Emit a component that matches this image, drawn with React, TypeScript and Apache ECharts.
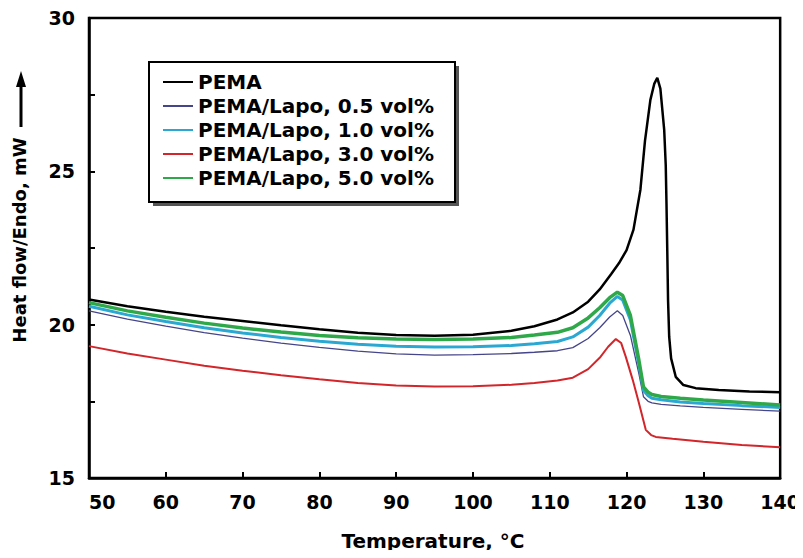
import React, { useEffect, useRef } from "react";
import * as echarts from "echarts";

const SERIES_NAMES = [
  "PEMA",
  "PEMA/Lapo, 0.5 vol%",
  "PEMA/Lapo, 1.0 vol%",
  "PEMA/Lapo, 3.0 vol%",
  "PEMA/Lapo, 5.0 vol%",
];

const T_PEMA = [50, 55, 60, 65, 70, 75, 80, 85, 90, 95, 100, 105, 108, 111, 113, 115, 116.5, 118, 119, 120, 120.9, 121.8, 122.4, 123.1, 123.6, 124, 124.4, 124.9, 125.1, 125.2, 125.3, 125.4, 125.55, 125.8, 126.4, 127.4, 129, 132, 136, 140];
const V_PEMA = [20.82, 20.6, 20.42, 20.26, 20.12, 19.98, 19.85, 19.74, 19.66, 19.64, 19.67, 19.8, 19.95, 20.17, 20.4, 20.75, 21.15, 21.65, 22.0, 22.43, 23.1, 24.4, 26.0, 27.33, 27.85, 28.05, 27.7, 26.35, 25.2, 23.9, 22.4, 20.8, 19.6, 18.9, 18.3, 18.03, 17.93, 17.87, 17.82, 17.8];

const T_FILLED = [50, 55, 60, 65, 70, 75, 80, 85, 90, 95, 100, 105, 108, 111, 113, 115, 116.5, 117.8, 118.8, 119.5, 120.5, 121.6, 122.2, 122.8, 123.3, 124.5, 127, 130, 135, 140];
const V_05 = [20.45, 20.18, 19.95, 19.74, 19.56, 19.4, 19.26, 19.14, 19.05, 19.01, 19.02, 19.06, 19.1, 19.15, 19.25, 19.55, 19.9, 20.25, 20.45, 20.3, 19.65, 18.4, 17.65, 17.5, 17.45, 17.4, 17.35, 17.3, 17.24, 17.18];
const V_10 = [20.6, 20.32, 20.1, 19.9, 19.73, 19.58, 19.46, 19.36, 19.3, 19.27, 19.28, 19.32, 19.38, 19.45, 19.6, 19.92, 20.3, 20.7, 20.92, 20.8, 20.15, 18.7, 17.85, 17.68, 17.6, 17.55, 17.48, 17.43, 17.36, 17.3];
const V_50 = [20.72, 20.45, 20.24, 20.05, 19.89, 19.76, 19.65, 19.57, 19.53, 19.52, 19.53, 19.58, 19.66, 19.75, 19.9, 20.22, 20.55, 20.88, 21.06, 20.95, 20.3, 18.85, 17.97, 17.8, 17.72, 17.66, 17.6, 17.54, 17.46, 17.38];

const T_30 = [50, 55, 60, 65, 70, 75, 80, 85, 90, 95, 100, 105, 108, 111, 113, 115, 116.5, 117.6, 118.6, 119.3, 119.9, 120.8, 121.6, 122.5, 123.2, 123.8, 126, 130, 135, 140];
const V_30 = [19.3, 19.06, 18.86, 18.66, 18.5, 18.35, 18.22, 18.1, 18.02, 17.98, 17.99, 18.04, 18.1, 18.18, 18.27, 18.55, 18.92, 19.28, 19.53, 19.4, 18.95, 18.2, 17.45, 16.57, 16.4, 16.34, 16.28, 16.18, 16.08, 16.0];

const COLORS = ["#000000", "#45458a", "#2aa8d2", "#d2262a", "#2fa84a"];
const WIDTHS = [2.5, 1.3, 3, 2, 3.5];

const X_MIN = 50;
const X_MAX = 140;
const X_STEP = 10;
const Y_MIN = 15;
const Y_MAX = 30;
const Y_STEP = 2.5;

const zip = (t: number[], v: number[]) => t.map((x, i) => [x, v[i]]);

const FONT = "DejaVu Sans";

export default function App() {
  const ref = useRef<HTMLDivElement>(null);
  useEffect(() => {
    if (!ref.current) return;
    const chart = echarts.init(ref.current, undefined, { renderer: "svg" });
    const datasets = [
      zip(T_PEMA, V_PEMA),
      zip(T_FILLED, V_05),
      zip(T_FILLED, V_10),
      zip(T_30, V_30),
      zip(T_FILLED, V_50),
    ];
    chart.setOption({
      animation: false,
      backgroundColor: "#ffffff",
      textStyle: { fontFamily: FONT, fontWeight: "bold", color: "#000" },
      grid: {
        left: 89,
        right: 21,
        top: 18,
        bottom: 80,
        show: true,
        borderColor: "#000",
        borderWidth: 2.5,
        backgroundColor: "transparent",
      },
      xAxis: {
        type: "value",
        min: X_MIN,
        max: X_MAX,
        interval: X_STEP,
        axisLine: { show: true, lineStyle: { color: "#000", width: 2.5 } },
        axisTick: { show: true, inside: true, length: 6, lineStyle: { color: "#000", width: 2 } },
        axisLabel: {
          fontFamily: FONT,
          fontWeight: "bold",
          fontSize: 19,
          color: "#000",
          margin: 14,
          alignMinLabel: "left",
        },
        splitLine: { show: false },
      },
      yAxis: {
        type: "value",
        min: Y_MIN,
        max: Y_MAX,
        interval: Y_STEP,
        axisLine: { show: true, lineStyle: { color: "#000", width: 2.5 } },
        axisTick: { show: true, inside: true, length: 6, lineStyle: { color: "#000", width: 2 } },
        axisLabel: {
          fontFamily: FONT,
          fontWeight: "bold",
          fontSize: 19,
          color: "#000",
          margin: 14,
          formatter: (v: number) => (v % 5 === 0 ? String(v) : ""),
        },
        splitLine: { show: false },
      },
      legend: {
        orient: "vertical",
        left: 162,
        top: 72,
        padding: 0,
        itemWidth: 30,
        itemHeight: 14,
        itemGap: 4,
        z: 10,
        data: SERIES_NAMES,
        itemStyle: { opacity: 0, borderWidth: 0 },
        textStyle: {
          fontFamily: FONT,
          fontWeight: "bold",
          fontSize: 20,
          lineHeight: 20,
          color: "#000",
        },
      },
      graphic: [
        {
          type: "rect",
          z: 3,
          shape: { x: 153, y: 66, width: 306, height: 140 },
          style: { fill: "#555" },
        },
        {
          type: "rect",
          z: 4,
          shape: { x: 149, y: 62, width: 306, height: 140 },
          style: { fill: "#fff", stroke: "#000", lineWidth: 2 },
        },
        {
          type: "text",
          x: 19,
          y: 240,
          rotation: Math.PI / 2,
          style: {
            text: "Heat flow/Endo, mW",
            font: `bold 18px "${FONT}"`,
            fill: "#000",
            align: "center",
            verticalAlign: "middle",
          },
        },
        {
          type: "line",
          shape: { x1: 21, y1: 127, x2: 21, y2: 84 },
          style: { stroke: "#000", lineWidth: 3 },
        },
        {
          type: "polygon",
          shape: { points: [[21, 71], [16, 87], [26, 87]] },
          style: { fill: "#000" },
        },
        {
          type: "text",
          x: 433,
          y: 541,
          style: {
            text: "Temperature, °C",
            font: `bold 20px "${FONT}"`,
            fill: "#000",
            align: "center",
            verticalAlign: "middle",
          },
        },
      ],
      series: datasets.map((d, i) => ({
        name: SERIES_NAMES[i],
        type: "line",
        data: d,
        showSymbol: false,
        symbol: "none",
        smooth: false,
        z: 2,
        lineStyle: { color: COLORS[i], width: WIDTHS[i] },
        itemStyle: { color: COLORS[i] },
      })),
    });
    return () => chart.dispose();
  }, []);
  return <div ref={ref} style={{ width: 803, height: 558, margin: -8 }} />;
}
